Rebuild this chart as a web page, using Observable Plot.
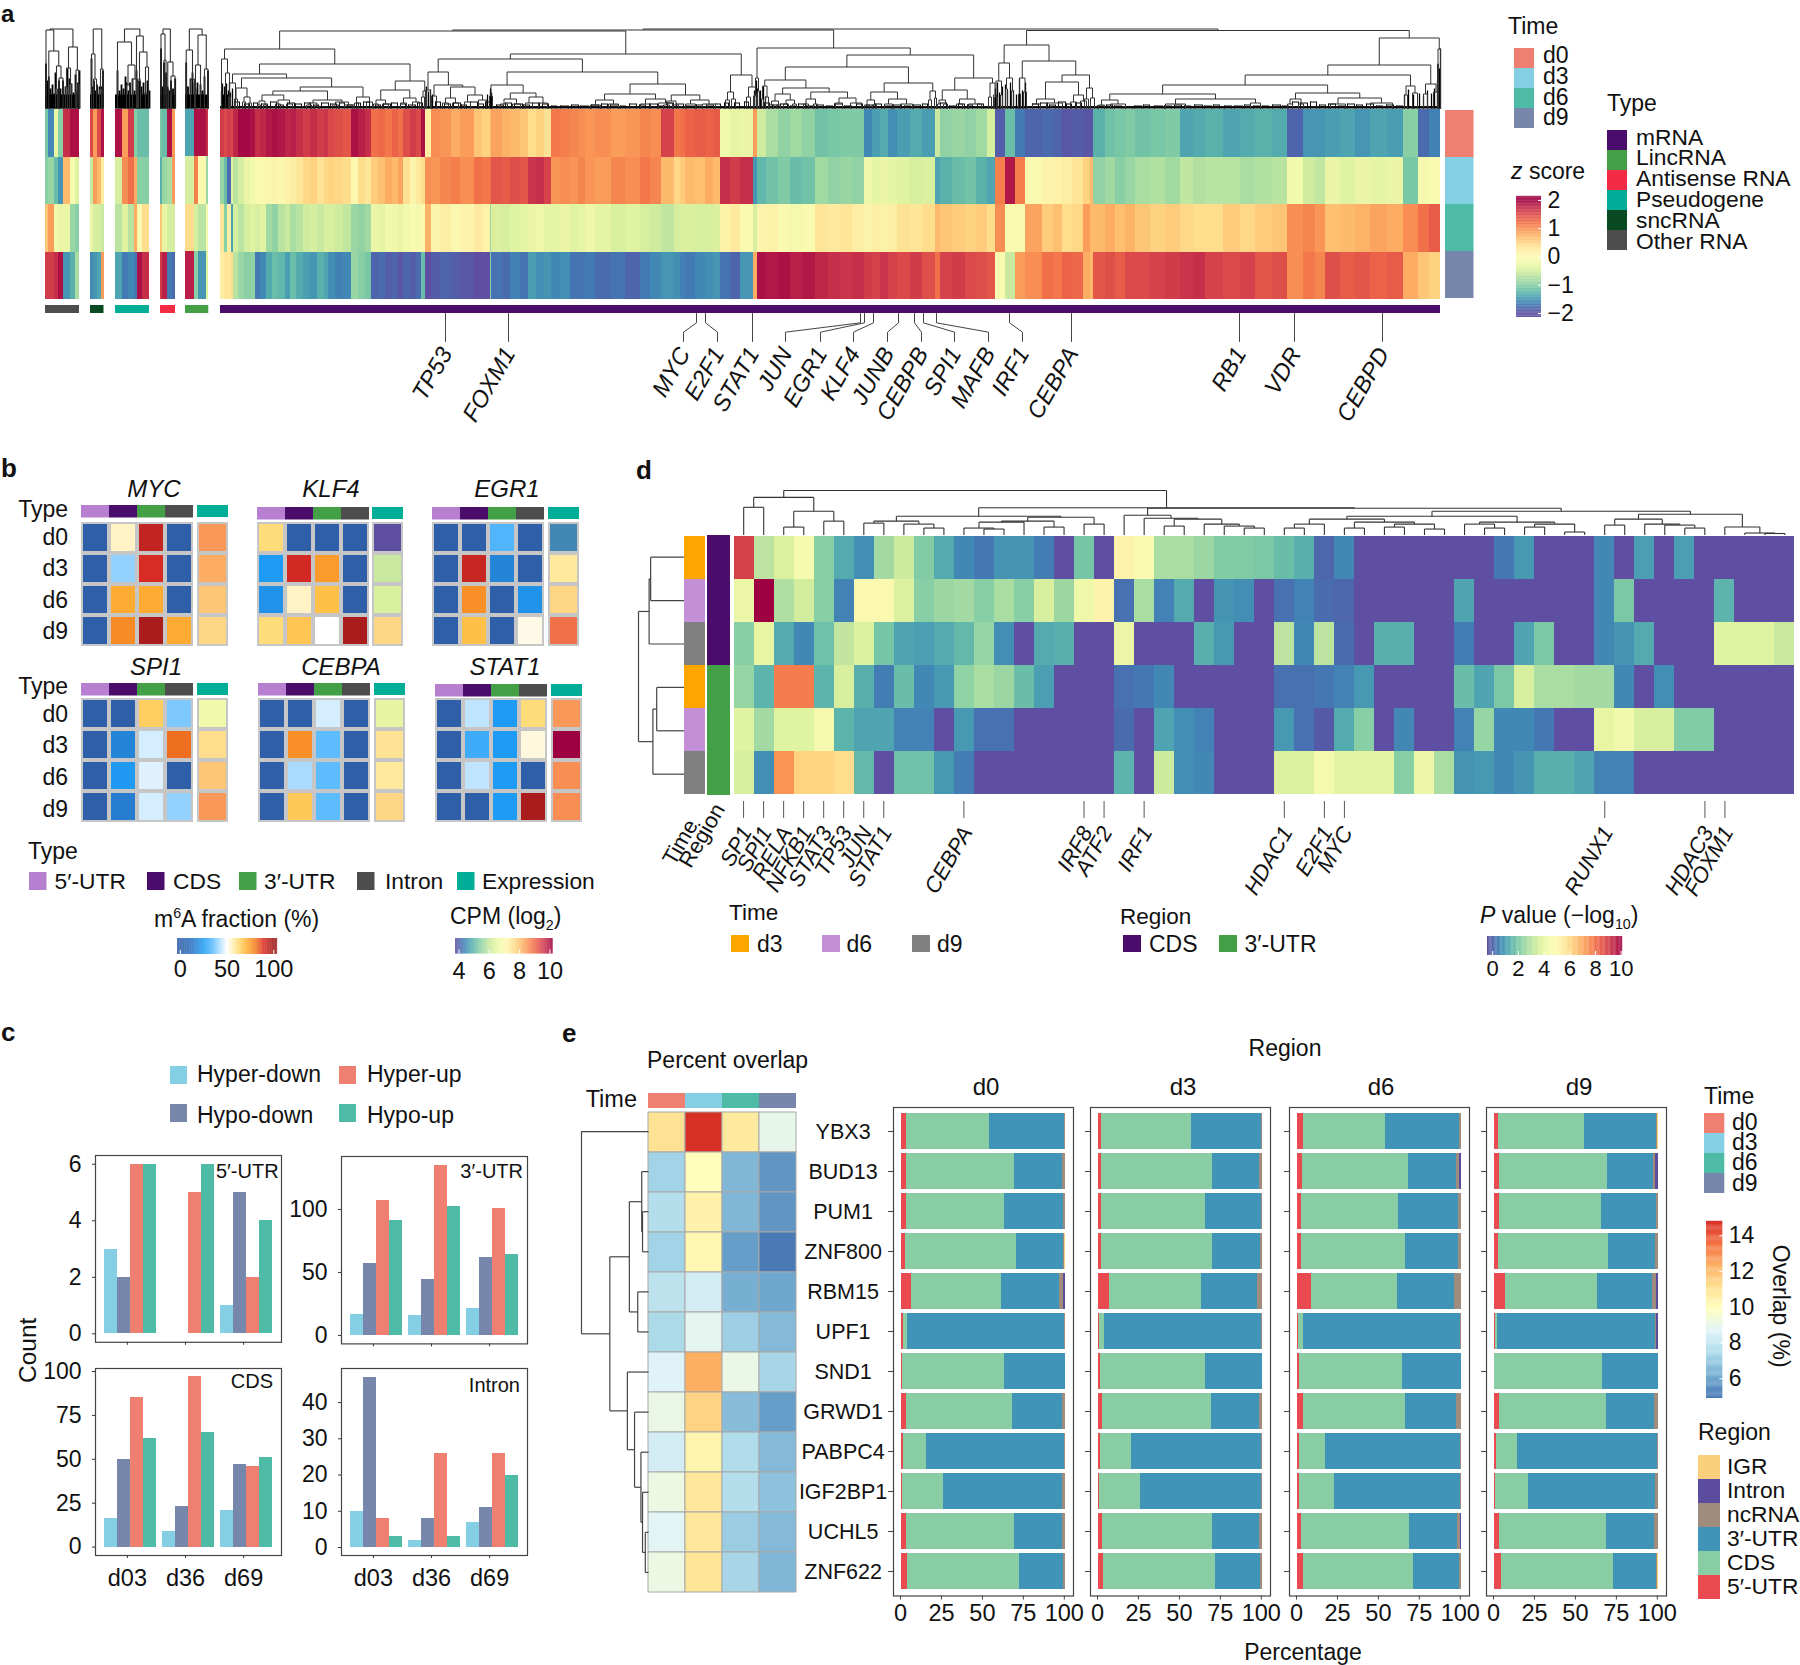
<!DOCTYPE html>
<html><head><meta charset="utf-8">
<script src="https://cdn.jsdelivr.net/npm/d3@7"></script>
<script src="https://cdn.jsdelivr.net/npm/@observablehq/plot@0.6"></script>
<style>
html,body{margin:0;background:#fff}
#root{position:relative;width:1800px;height:1665px;overflow:hidden;font-family:"Liberation Sans",Arial,sans-serif;color:#111}
#root svg{font-family:"Liberation Sans",Arial,sans-serif}
.t{position:absolute;white-space:nowrap;line-height:.88}
.t sub,.t sup{font-size:62%;line-height:0}
</style></head><body><div id="root"></div>
<script>
/* ---------- shared categories ---------- */
const times=["d0","d3","d6","d9"];
const timeColors=["#ef7f70","#85cfe4","#4dbba5","#7787ab"];
const rnaTypes=["mRNA","LincRNA","Antisense RNA","Pseudogene","sncRNA","Other RNA"];
const rnaColors=["#4b0d6b","#43a047","#f42b45","#00ad96","#0a4a22","#4d4d4d"];

/* ---------- panel a: [end rank, z d0, z d3, z d6, z d9] ---------- */
const aMain=[[4,1.6,-.9,.3,.2],[7,1.5,-1.2,-1,.3],[11,1.6,-1.8,.2,.3],[13,1.5,-.4,-1.4,.4],[18,1.75,-.7,-.5,-.7],[24,1.95,-.5,-.7,-.9],[30,1.95,-.3,-.5,-1.0],[35,1.9,-.2,-.4,-.95],[40,1.7,0,-.5,-1.7],[46,1.75,-.05,-.4,-1.6],[52,1.85,.05,-.85,-1.35],[58,1.9,.1,-.95,-1.2],[65,1.85,.05,-.7,-1.25],[70,1.75,.15,-.6,-1.45],[76,1.8,.2,-.8,-1.2],[83,1.7,.3,-.7,-1.35],[90,1.6,.45,-.55,-1.45],[97,1.7,.5,-.5,-1.5],[104,1.6,.35,-.6,-1.3],[108,1.65,.45,-.45,-1.4],[115,1.5,.5,-.5,-1.55],[123,1.45,.45,-.55,-1.65],[131,1.4,.4,-.65,-1.6],[138,1.9,.05,-.9,-.9],[145,1.8,.4,-.95,-1.0],[151,1.7,.3,-.85,-1.1],[158,1.2,.55,-.3,-1.85],[165,1.25,.65,-.35,-1.8],[172,1.15,.8,-.2,-1.9],[178,1.3,.7,-.25,-1.85],[183,1.2,.85,-.3,-1.95],[190,1.45,.35,-.2,-1.85],[196,1.6,.1,-.1,-1.9],[201,1.5,.25,-.15,-1.8],[205,1.9,.4,0,-1.2],[211,.2,1.0,.75,-2],[220,1.0,.95,.1,-1.9],[231,.95,1.05,.2,-1.85],[240,.8,1.1,.05,-1.9],[254,.9,1.0,.12,-1.95],[262,.6,1.2,.25,-2],[270,.5,1.15,.15,-2.05],[271,.7,1.2,-.9,-1.0],[282,.85,1.4,-.45,-1.75],[290,.75,1.35,-.5,-1.8],[300,.7,1.45,-.4,-1.65],[308,.6,1.4,-.35,-1.75],[316,.4,1.65,-.3,-1.45],[324,.5,1.7,-.25,-1.55],[331,.35,1.55,-.35,-1.5],[340,1.15,.95,-.35,-1.6],[350,1.1,1.0,-.3,-1.55],[358,1.05,.95,-.4,-1.75],[365,1.0,1.05,-.35,-1.75],[375,.95,.95,-.25,-1.7],[391,1.0,.9,-.35,-1.8],[405,.9,1.05,-.45,-1.75],[420,.95,1.0,-.4,-1.85],[430,1.05,1.15,-.5,-1.7],[441,1.0,1.05,-.55,-1.6],[454,1.55,.7,-.65,-1.5],[460,1.15,.45,-.5,-1.55],[465,1.2,.55,-.45,-1.65],[475,1.3,.7,-.45,-1.7],[485,1.35,.65,-.5,-1.6],[493,1.3,.8,-.5,-1.55],[500,1.35,.7,-.45,-1.5],[510,-.2,1.7,.15,-1.75],[520,-.35,1.6,.25,-1.85],[533,-.3,1.7,-.1,-1.5],[537,.9,-1.5,-.5,.8],[546,-.55,-1.25,.1,1.9],[558,-.8,-1.15,.15,1.85],[570,-.95,-1.05,-.05,1.9],[582,-.85,-1.2,-.15,1.8],[595,-.95,-1.15,-.1,1.85],[608,-1.15,-.85,.3,1.75],[620,-1.1,-.95,.25,1.7],[632,-1.05,-.9,.3,1.65],[644,-1.05,-.95,.2,1.7],[652,-1.6,-.25,.1,1.6],[660,-1.45,-.35,.2,1.55],[668,-1.35,-.3,.15,1.65],[677,-1.55,-.35,.2,1.55],[690,-1.45,-.4,.35,1.5],[702,-1.35,-.5,.3,1.6],[715,-1.45,-.45,.4,1.45],[720,-.6,-1.4,.7,1.2],[732,-.95,-1.3,.6,1.55],[745,-.9,-1.2,.55,1.6],[756,-.95,-1.15,.5,1.5],[767,-.85,-1.3,.55,1.45],[775,-.5,-1.4,.4,1.4],[785,-1.9,1.1,1.0,-.1],[795,-1.2,1.85,-.1,-.6],[805,-1.7,1.1,-.1,.9],[822,-1.85,-.05,.85,1.0],[833,-1.8,.1,.55,1.2],[842,-1.85,.15,.65,1.15],[852,-1.95,.2,.4,1.3],[863,-1.9,.3,.45,1.25],[870,-1.95,.5,.9,.8],[873,-1.95,.7,.7,.7],[885,-1.3,-.95,.7,1.4],[895,-1.15,-.85,.8,1.45],[905,-1.1,-1.0,.65,1.35],[915,-1.05,-.9,.75,1.5],[930,-1.15,-.8,.6,1.5],[945,-1.1,-.75,.5,1.55],[960,-1.05,-.85,.55,1.6],[973,-1.4,-.65,.45,1.65],[985,-1.35,-.75,.4,1.7],[1003,-1.3,-.7,.4,1.55],[1020,-1.4,-.7,.55,1.5],[1035,-1.35,-.8,.45,1.55],[1052,-1.3,-.75,.55,1.4],[1067,-1.35,-.7,.6,1.45],[1083,-1.85,-.2,1.0,1.0],[1095,-1.5,-.55,1.05,1.15],[1105,-1.5,-.65,.95,1.05],[1120,-1.45,-.3,.65,1.45],[1135,-1.4,-.4,.7,1.35],[1150,-1.5,-.3,.75,1.4],[1167,-1.4,-.35,.85,1.3],[1183,-1.45,-.3,.8,1.35],[1198,-1.0,-1.1,1.0,.8],[1209,-1.8,-.15,1.2,.6],[1220,-1.65,-.1,1.35,.5]];
const aOther=[[3.3,-1.1,-1,.6,1.6],[9,-1.6,-.9,.9,1.6],[13.3,-.3,-1.2,-.2,1.7],[18.3,-1,-1.5,-.3,1.9],[25,1.7,.7,-.3,-1.5],[30,1.9,-.1,-.9,-1.3],[34,1.9,-.4,-1,-.8]];
const aSnc=[[3,1.5,-.6,-.3,-1.6],[7,.9,.9,-.5,-1.5],[10.5,1.5,.7,-.5,-1.4],[13.3,1.9,.2,-.6,.9]];
const aPseudo=[[7,1.9,-.5,-.7,-1.4],[12.7,.9,1.0,-.4,-1.7],[19.3,1.6,1.2,-.7,-1.6],[22,-1,.8,.8,-1.7],[27,-1.2,-1,-.1,1.9],[34,-1.2,-1,.4,1.7]];
const aAnti=[[2.3,-1.1,-1.3,.6,1.6],[6.7,-1.2,-.9,-.3,1.8],[12.3,1.9,-.8,-.5,-1.7],[15,.9,.9,-.5,-1.8]];
const aLinc=[[9,-1.4,-.5,.4,1.8],[13.3,1.9,1.1,-.5,-1],[20.7,1.9,0,-.7,-1.5],[23.3,1.7,-.9,-.2,-.4]];

/* dendrograms: [height, left, right], numbers are leaf ranks */
const aMainTree=[80,[79,[78,
  [60,[50,1,[36,5,9]],[45,[35,[26,[12,8,10],15],[31,[21,[10,14,17],[12,[7,22,25],[6,28,31]]],[22,[18,[14,[8,[4,37,40],[4,43,46]],[9,[5,55,60],[5,66,72]]],[9,[6,[4,86,91],[3,94,99]],[7,[4,112,118],[4,124,132]]]],[12,[6,134,138],[7,146,152]]]]],[28,[19,[9,[5,153,158],[5,162,168]],[11,[6,180,186],[7,192,199]]],[18,[12,201,204],206]]]],
  [55,[50,[37,[19,205,210],[24,[13,211,216],[22,[11,[6,222,228],[6,232,238]],[14,[7,244,250],[9,258,266]]]]],[37,[24,[13,269,272],[16,[10,[5,280,287],[5,292,300]],[12,[6,305,312],[6,318,327]]]],[25,[15,[9,[4,370,380],[5,388,398]],[10,[5,420,430],[6,438,452]]],[14,[8,[4,443,449],[4,453,458]],[9,[5,465,475],[5,482,495]]]]]],
  [34,[17,[9,505,509],[10,511,515]],[22,[12,526,530],[13,533,537]]]]],
  [61,[31,[15,534,536],[18,537,539]],[54,[42,[29,[23,[10,541,543],[12,545,548]],[21,[15,[8,[4,549,553],[4,556,560]],[9,[5,563,568],[5,572,576]]],[17,[10,[5,583,588],[5,593,597]],[11,[6,615,622],[6,630,641]]]]],[26,[17,[9,[4,644,649],[4,652,656]],[10,[5,664,672],[5,680,692]]],[18,[9,708,711],[11,714,716]]]],[31,[19,[9,[5,717,720],[5,723,727]],[10,[5,736,742],[5,748,761]]],[26,[12,768,771],[14,773,776]]]]]],
  [78.5,[64,[46,[28,[12,774,777],[14,780,782]],[31,[20,785,787],[18,791,793]]],[48,[31,[15,798,800],[17,803,806]],[34,[27,[10,[5,812,820],[6,826,842]],[14,[7,850,856],[8,860,866]]],[21,[10,864,868],[11,870,874]]]]],
  [71,[44,[34,[24,[15,[9,[4,878,884],[5,890,905]],[10,[5,945,965],[6,1030,1040]]],[16,[10,[5,1067,1072],[5,1078,1083]],[11,[5,1110,1125],[6,1150,1172]]]],[23,[14,1184,1187],[16,1192,1197]]],[25,[15,1203,1207],[17,1213,1218]]],[60,[45,1217,1218],1220]]]];
const aOtherTree=[80,[79,.5,[58,3.3,[43,[20,10,12],[31,13.5,17.5]]]],[62,[41,[22,20,22],[25,24,26]],[39,[18,30,31],[24,32.5,34]]]];
const aSncTree=[80,[55,1,[30,3,6]],[40,[20,9,11],12.5]];
const aPseudoTree=[80,[67,2,[44,[24,11,14],[30,17,22]]],[73,21,[57,[28,23,25],[42,30,33]]]];
const aAntiTree=[80,[75,0.5,[49,3.5,5.5]],[47,[20,6.5,8],[33,[15,10,11],14.5]]];
const aLincTree=[80,[59,.7,[30,5,9]],[74,[44,10,15],[40,19,22.5]]];
/* tiny bottom branches of the main dendrogram: [rank, width, height] */
const aTwigs=[[14,5,7],[24,5,5],[33,4,6],[41,6,5],[50,6,7],[58,5,4],[67,7,6],[75,6,5],[84,6,6],[93,5,4],[101,7,6],[110,6,5],[119,5,6],[127,7,4],[136,4,6],[143,6,7],[155,5,4],[163,7,5],[171,6,6],[180,5,5],[188,7,4],[197,5,6],[215,5,7],[224,6,5],[233,7,6],[241,5,4],[250,7,7],[258,5,5],[265,4,7],[276,7,4],[285,6,6],[294,8,5],[303,6,4],[312,7,6],[322,6,5],[331,5,3],[340,8,3],[351,7,4],[360,8,3],[371,7,4],[381,6,5],[390,8,4],[400,5,3],[409,7,5],[419,6,4],[429,8,5],[438,5,3],[447,6,6],[456,7,5],[466,8,3],[476,6,4],[486,7,4],[495,5,5],[504,4,6],[514,5,6],[524,4,7],[544,5,6],[552,6,4],[560,7,5],[570,6,3],[578,7,5],[586,8,3],[596,7,4],[606,6,3],[614,8,5],[624,7,3],[636,6,5],[646,7,4],[655,6,5],[664,7,3],[673,8,4],[684,6,3],[693,7,4],[702,5,5],[720,6,6],[729,7,3],[738,6,5],[747,5,4],[757,6,5],[812,6,5],[820,7,6],[829,6,4],[838,7,7],[846,5,5],[855,6,6],[877,7,3],[886,6,4],[894,7,3],[904,8,2],[914,7,3],[923,6,4],[934,8,3],[944,7,3],[954,7,4],[964,6,3],[974,8,4],[984,7,3],[993,6,4],[1004,7,3],[1014,8,3],[1024,6,4],[1033,7,3],[1042,6,3],[1052,8,4],[1062,6,3],[1072,6,7],[1080,7,6],[1090,6,7],[1099,6,4],[1108,7,5],[1118,6,3],[1127,7,5],[1136,6,4],[1146,7,5],[1156,6,3],[1166,7,4],[1176,6,3]];
/* taller stems in the dense parts: [rank, height] */
const aStems=[[1,17],[2,25],[3,14],[4,22],[6,25],[7,14],[8,18],[9,26],[10,16],[12,20],[205,15],[206,22],[208,17],[210,19],[212,14],[267,14],[270,20],[271,16],[534,18],[536,28],[537,20],[540,18],[543,22],[545,12],[775,20],[777,26],[779,16],[782,22],[785,24],[787,18],[790,26],[793,18],[796,14],[799,30],[802,18],[805,26],[1184,14],[1188,19],[1193,14],[1199,15],[1203,12],[1207,18],[1211,15],[1214,20],[1217,28],[1219,40],[1220,60]];
const smallStems={
 other:[[.5,45],[2,28],[3.3,32],[5,20],[7,24],[9,15],[10,36],[12,18],[13.5,28],[15,20],[17.5,28],[20,22],[22,40],[24,30],[26,25],[28,16],[30,34],[32.5,26],[34,38]],
 snc:[[1,50],[2.5,22],[3.5,28],[5,18],[6.5,24],[8,14],[9,22],[11,22],[12.5,38]],
 pseudo:[[2,38],[4,18],[6,24],[8,20],[10,32],[11,26],[13,18],[14.5,26],[17,30],[19,18],[21,38],[22,26],[24,30],[26,22],[28,26],[30,16],[32,28],[34,18]],
 anti:[[.5,60],[2,22],[3.5,46],[5.5,36],[7,22],[9,18],[10.5,28],[12.5,20],[14.7,30]],
 linc:[[.7,46],[2.5,22],[5,30],[7,36],[9,26],[10,20],[12,26],[15,24],[17,18],[19,32],[22.5,38]]
};
const aGenes=["TP53","FOXM1","MYC","E2F1","STAT1","JUN","EGR1","KLF4","JUNB","CEBPB","SPI1","MAFB","IRF1","CEBPA","RB1","VDR","CEBPD"];
const aGeneRank=[225,288,476,485,532,640,644,653,678,694,703,716,789,851,1019,1074,1162];
const aLabelRank=[225,288,463,497,532,565,600,633,667,701,734,768,802,851,1019,1074,1162];

/* ---------- panel b ---------- */
const regionsB=["5′-UTR","CDS","3′-UTR","Intron"];
const regionBColors=["#b77fd0","#4b0d6b","#43a047","#4d4d4d"];
const bGenes=["MYC","KLF4","EGR1","SPI1","CEBPA","STAT1"];
const mycM6A=[[0,55,94,0],[0,40,90,0],[0,72,72,0],[0,78,98,72]];
const klf4M6A=[[62,0,0,0],[25,91,75,0],[22,55,68,0],[62,67,50,98]];
const egr1M6A=[[0,0,33,0],[0,93,18,0],[0,77,0,22],[0,68,0,52]];
const spi1M6A=[[0,0,65,38],[0,18,46,82],[0,24,47,0],[0,16,46,40]];
const cebpaM6A=[[0,0,46,0],[0,77,35,0],[0,42,35,0],[0,66,35,0]];
const stat1M6A=[[0,44,25,62],[0,30,25,53],[0,44,25,0],[0,0,25,98]];
const mycCPM=[8.4,8.2,7.9,7.7];
const klf4CPM=[4,6.1,6.3,7.7];
const egr1CPM=[4.6,7.4,7.7,8.8];
const spi1CPM=[6.7,7.6,7.9,8.4];
const cebpaCPM=[6.5,7.5,7.4,7.7];
const stat1CPM=[8.4,10,8.5,8.5];

/* ---------- panel c ---------- */
const changeTypes=["Hyper-down","Hypo-down","Hyper-up","Hypo-up"];
const changeColors=["#85cfe4","#7787ab","#ef7f70","#4dbba5"];
const intervals=["d03","d36","d69"];
const cUTR5=[[3,2,6,6],[0,0,5,6],[1,5,2,4]];
const cUTR3=[[17,57,107,91],[16,44,135,102],[21,62,101,64]];
const cCDS=[[16,50,85,62],[9,23,97,65],[21,47,46,51]];
const cIntron=[[10,47,8,3],[2,8,26,3],[7,11,26,20]];

/* ---------- panel d ---------- */
const dRows=[
[8.9,3.3,3.9,4.7,2.5,1.6,1.1,2.9,3.6,2.4,1.6,1,.7,1.2,1.2,.8,0,2.2,0,5.3,4.9,3,3,2.8,2.4,2.4,2.3,2,1.7,.4,1,0,0,0,0,0,0,0,.7,1.3,0,0,0,1,0,1.4,0,1.4,0,0,0,0,0],
[4.3,10,3.1,3.7,2.5,.9,5,5,3.9,2.5,2.8,2.9,2.5,3,2.5,3.8,2.8,4.4,5.3,.6,3,.9,1.6,0,1.2,1.1,0,.6,.9,.5,.4,0,0,0,0,0,1.5,0,0,0,0,0,0,1,2.3,0,0,0,0,1.8,0,0,0],
[2.5,4.2,1.6,1,2.1,3.4,3.9,2.2,1.5,1.4,1.6,1.9,2.7,1.1,0,1.6,1.7,0,0,4.3,0,0,0,1.7,1.3,0,0,3.3,1,3.3,.5,0,1.7,1.7,0,0,.8,0,0,1.5,2.3,0,0,1,1.2,1.6,0,0,0,4,4,4,3.5],
[2.7,1.8,7.8,7.8,1.8,3.8,1.7,.8,2,1,1.3,2.6,3,2.8,2,1.4,0,0,0,.6,.7,1,0,0,0,0,0,.6,.6,.7,.9,1.3,0,0,0,0,2,1.5,2.3,3.8,3,3,2.9,2.9,1,0,1.1,0,0,0,0,0,0],
[4,2.9,4,4,4.6,1.8,1.5,1.5,.9,.9,0,1.3,.6,.6,0,0,0,0,0,.5,0,1.5,1.1,.9,0,0,0,1.3,.6,.2,1.6,2.5,0,1,0,0,.9,2.7,1,1,.7,0,0,4.2,4.5,3.8,3.8,2.4,2.4,0,0,0,0],
[3.8,1.1,7.4,6.2,6.2,6,1.9,0,2.1,2.1,1.3,.8,0,0,0,0,0,0,0,1.8,0,3.6,1.1,1,0,0,0,3.9,3.9,4.6,4.1,4.1,4.1,2.5,4.3,3,1.2,1.3,1,1.2,1.7,1.7,1.5,.9,.9,0,0,0,0,0,0,0,0]];
const dTimes=["d3","d6","d9"];
const dTimeColors=["#ffa500","#c38fd6","#808080"];
const dRegions=["CDS","3′-UTR"];
const dRegionColors=["#4b0d6b","#43a047"];
const dGenes=["SP1","SPI1","RELA","NFKB1","STAT3","TP53","JUN","STAT1","CEBPA","IRF8","ATF2","IRF1","HDAC1","E2F1","MYC","RUNX1","HDAC3","FOXM1"];
const dGeneCols=[0,1,2,3,4,5,6,7,11,17,18,20,27,29,30,43,48,49];
const dTopTree=[45,[38,[28,0,1],[24,[8,2,3],[14,4,5]]],[27.5,[19,[14,[12,6,7],[11,8,[7,9,10]]],[18,[14,[13,[7,11,[6,12,13]],14],[8,15,16]],[11,17,18]]],[27,[20,19,[17,20,[16,[9,21,22],[11,23,[9,24,[7,25,26]]]]]],[24,[19,[16,[11,[7,27,28],29],[13,[7,30,31],[11,[8,32,33],[6,34,35]]]],[13,[11,36,[7,37,38]],[11,[8,39,40],[3,41,42]]]],[21,[16,[10,43,44],[11,45,[10,46,[7,47,48]]]],[8,49,[2,50,[1.5,51,52]]]]]]]];
const dLeftTree=[60,[46,[44,0,1],2],[41,[36,3,4],5]];

/* ---------- panel e ---------- */
const eGenes=["YBX3","BUD13","PUM1","ZNF800","RBM15","UPF1","SND1","GRWD1","PABPC4","IGF2BP1","UCHL5","ZNF622"];
const eOverlap=[[11,14.8,10.7,8.9],[7.2,9.9,6.4,5.6],[7.6,10.4,6.4,5.6],[7.2,10.2,5.8,5],[7.8,8.3,6.2,6],[7.4,8.8,7.1,6.5],[8.6,12.3,9,7.3],[9,11.4,6.6,5.8],[8.3,10.3,7.5,6.5],[9.1,10.8,7.6,6.7],[8.7,10.8,7,6.5],[9.1,10.9,7.3,6.4]];
const eTree=[168,0,[97,[48,[17,1,[15,2,3]],[27,4,5]],[53,6,[35,7,[19,8,[15,9,[8,10,11]]]]]]];
const eRegions=["5′-UTR","CDS","3′-UTR","ncRNA","Intron","IGR"];
const eRegionColors=["#e84a50","#88cda4","#3f94b8","#a08c7c","#5b4c9f","#fbd07c"];
const eD0=[[3,50.6,45.9,.5,0,0],[3.3,65.7,29,2,0,0],[2.8,60.2,36,1,0,0],[2.3,67.7,29,.7,0,.3],[6,55,35.4,2.6,1,0],[1,2.6,95.9,.5,0,0],[.5,62.5,37,0,0,0],[2.8,65.2,30.5,1.5,0,0],[1.3,14.2,84,.5,0,0],[.8,24.8,72.4,2,0,0],[3,66,29,2,0,0],[3.8,68.2,27,1,0,0]];
const eD3=[[2,54.5,43,.5,0,0],[2,67.6,28.4,2,0,0],[1.6,63.9,34,.5,0,0],[2,67.4,29.6,1,0,0],[6.6,56.4,34,3,0,0],[.5,3.4,95.6,.5,0,0],[1,64.5,34.5,0,0,0],[2.5,66.2,29.8,1.5,0,0],[1,19,79.7,.3,0,0],[.5,24.9,74.3,.3,0,0],[2.2,67.4,28.4,2,0,0],[3.2,68.2,27.6,1,0,0]];
const eD6=[[3.4,50.2,45.4,1,0,0],[2.9,65.1,29,1.7,1.3,0],[2.7,58.7,36.9,1.7,0,0],[2.7,63,32.6,1.7,0,0],[8.5,52.4,35.1,4,0,0],[.7,2.9,95.7,.7,0,0],[1.2,62.8,36,0,0,0],[3.4,62.8,30.8,3,0,0],[1.4,15.6,82.8,.2,0,0],[1.2,21.5,76.9,.4,0,0],[2.7,65.7,29.2,1.9,.5,0],[3.9,66.9,28,1.2,0,0]];
const eD9=[[2.4,52.6,43.7,.8,0,.5],[2.9,66.1,28,1.5,1.5,0],[2.9,62.7,33.2,1.2,0,0],[2.7,67,28.3,2,0,0],[6.8,56.2,33.6,2.2,1.2,0],[.3,1.7,96.5,.2,1.3,0],[.2,65.8,34,0,0,0],[3.2,65.3,29.3,2.2,0,0],[1.4,12.6,85.7,.3,0,0],[.3,20.3,77.4,2,0,0],[3.2,65.1,29.3,2.4,0,0],[4.4,68.5,26.1,.6,0,.4]];

/* ---------- helpers ---------- */
const root=document.getElementById("root");
function P(left,top,w,h,opts){
  const svg=Plot.plot({width:w,height:h,margin:0,style:{background:"transparent",overflow:"visible",maxWidth:"none",fontFamily:"Liberation Sans, Arial, sans-serif"},...opts});
  svg.style.position="absolute";svg.style.left=left+"px";svg.style.top=top+"px";root.append(svg);return svg;
}
function T(html,x,y,o={}){
  const s=o.size||22,e=document.createElement("div");e.className="t";e.innerHTML=html;
  e.style.left=x+"px";e.style.top=(y-.7865*s)+"px";e.style.fontSize=s+"px";
  if(o.weight)e.style.fontWeight=o.weight;if(o.italic)e.style.fontStyle="italic";
  const tx=o.anchor==="middle"?"translateX(-50%)":o.anchor==="end"?"translateX(-100%)":"";
  e.style.transform=tx+(o.rotate?` rotate(${o.rotate}deg)`:"");
  if(o.rotate)e.style.transformOrigin="50% 85%";
  root.append(e);return e;
}
function swatch(names,colors,left,top,w,h,dir="v"){
  return P(left,top,w,h,{x:{axis:null,padding:0,...(dir==="h"?{domain:names}:{})},y:{axis:null,padding:0,...(dir==="v"?{domain:names}:{})},color:{domain:names,range:colors},
    marks:[Plot.cell(names,dir==="v"?{y:d=>d,fill:d=>d}:{x:d=>d,fill:d=>d})]});
}
function segs(tree){
  const out=[];
  (function walk(n){
    if(typeof n==="number")return{p:n,h:0};
    const A=walk(n[1]),B=walk(n[2]),h=n[0];
    out.push({a1:A.p,b1:A.h,a2:A.p,b2:h},{a1:B.p,b1:B.h,a2:B.p,b2:h},{a1:A.p,b1:h,a2:B.p,b2:h});
    return{p:(A.p+B.p)/2,h};
  })(tree);
  return out;
}
function topDendro(tree,left,top,w,h,xd,maxH,extra=[],sw=1){
  return P(left,top,w,h,{x:{domain:xd,axis:null},y:{domain:[0,maxH],axis:null},
    marks:[...extra,Plot.link(segs(tree),{x1:"a1",y1:"b1",x2:"a2",y2:"b2",stroke:"#333",strokeWidth:sw})]});
}
function sideDendro(tree,left,top,w,h,yd,maxH,sw=1.2){
  return P(left,top,w,h,{x:{domain:[maxH,0],axis:null},y:{domain:yd,axis:null},
    marks:[Plot.link(segs(tree),{y1:"a1",x1:"b1",y2:"a2",x2:"b2",stroke:"#444",strokeWidth:sw})]});
}
const zColor={type:"linear",scheme:"Spectral",reverse:true,domain:[-2,2]};
function zHeat(seg,left,top,w,h){
  const data=seg.flatMap((s,i)=>[0,1,2,3].map(r=>({x1:i?seg[i-1][0]:0,x2:s[0],r,z:s[r+1]})));
  return P(left,top,w,h,{x:{domain:[0,seg[seg.length-1][0]],axis:null},y:{domain:[4,0],axis:null},color:zColor,
    marks:[Plot.rect(data,{x1:"x1",x2:"x2",y1:"r",y2:d=>d.r+1,fill:"z",shapeRendering:"crispEdges"})]});
}
function vBar(color,lo,hi,ticks,left,top,w,h,mr,fs=22,fmt=d=>String(d).replace("-","−")){
  const st=(hi-lo)/160,s=d3.range(lo,hi,st);
  return P(left,top,w+mr,h,{marginRight:mr,x:{domain:[0,1],axis:null},y:{domain:[lo,hi],axis:null},color,
    marks:[Plot.rect(s,{x1:()=>0,x2:()=>1,y1:d=>d,y2:d=>d+st*1.2,fill:d=>d}),
      Plot.axisY({anchor:"right",ticks,tickFormat:fmt,tickSize:-4,tickPadding:10,stroke:"#fff",fill:"#111",fontSize:fs,label:null})]});
}
function hBar(color,lo,hi,ticks,left,top,w,h,mb,fs=22,pad=mb-18){
  const st=(hi-lo)/160,s=d3.range(lo,hi,st);
  return P(left-14,top,w+28,h+mb,{marginLeft:14,marginRight:14,marginBottom:mb,x:{domain:[lo,hi],axis:null},y:{domain:[0,1],axis:null},color,
    marks:[Plot.rect(s,{y1:()=>0,y2:()=>1,x1:d=>d,x2:d=>d+st*1.2,fill:d=>d}),
      Plot.axisX({anchor:"bottom",ticks,tickFormat:d=>d,tickSize:-4,tickPadding:pad,stroke:"#fff",fill:"#111",fontSize:fs,label:null})]});
}

/* ---------- panel a ---------- */
T("a",1,22,{size:24,weight:"bold"});
const blocks=[
 [aOther,aOtherTree,45,34,"Other RNA",smallStems.other],
 [aSnc,aSncTree,90,13.5,"sncRNA",smallStems.snc],
 [aPseudo,aPseudoTree,115,34,"Pseudogene",smallStems.pseudo],
 [aAnti,aAntiTree,159.5,15,"Antisense RNA",smallStems.anti],
 [aLinc,aLincTree,185,23.3,"LincRNA",smallStems.linc]];
for(const [seg,tree,left,w,type,stems] of blocks){
  zHeat(seg,left,109,w,190);
  topDendro(tree,left,27.5,w,80.5,[0,w],80.5,[
    Plot.rect([0],{x1:()=>0,x2:()=>w,y1:()=>0,y2:()=>14,fill:"#000"}),
    Plot.ruleX(stems,{x:d=>d[0],y1:()=>0,y2:d=>d[1],stroke:"#000",strokeWidth:1.8})],1.1);
  swatch([type],[rnaColors[rnaTypes.indexOf(type)]],left,305,w,8.5);
}
zHeat(aMain,220,109,1220,190);
topDendro(aMainTree,220,27.5,1220,80.5,[0,1220],80.5,[
  Plot.rect([0],{x1:()=>0,x2:()=>1220,y1:()=>0,y2:()=>2.4,fill:"#000"}),
  Plot.ruleX(aStems,{x:d=>d[0],y1:()=>0,y2:d=>d[1],stroke:"#000",strokeWidth:1.3}),
  Plot.ruleY(aTwigs,{x1:d=>d[0],x2:d=>d[0]+d[1],y:d=>d[2],stroke:"#111",strokeWidth:1}),
  Plot.ruleX(aTwigs,{x:d=>d[0],y1:()=>0,y2:d=>d[2],stroke:"#111",strokeWidth:1}),
  Plot.ruleX(aTwigs,{x:d=>d[0]+d[1],y1:()=>0,y2:d=>d[2],stroke:"#111",strokeWidth:1})]);
swatch(["mRNA"],[rnaColors[0]],220,305,1220,8.5);
swatch(times,timeColors,1445,109,28.5,190);
const aLines=aGenes.flatMap((g,i)=>[[aGeneRank[i],0],[aGeneRank[i],1],[aLabelRank[i],2],[aLabelRank[i],3]].map(([x,y])=>({g,x,y})));
P(220,313,1220,125,{marginBottom:97,x:{domain:[0,1220],axis:null},y:{domain:[0,3],reverse:true,axis:null},
  marks:[Plot.line(aLines,{x:"x",y:"y",z:"g",stroke:"#444",strokeWidth:1}),
    Plot.text(aGenes,{x:(d,i)=>aLabelRank[i],y:()=>3,text:d=>d,rotate:-60,textAnchor:"end",dx:1,dy:8,fontStyle:"italic",fontSize:23.5,fill:"#111"})]});
T("Time",1508,34,{size:23});
swatch(times,timeColors,1514,46,20,83);
times.forEach((t,i)=>T(t,1543,63+i*20.8,{size:23}));
T("Type",1607,111.5,{size:23});
swatch(rnaTypes,rnaColors,1607,128,20,124.5);
rnaTypes.forEach((t,i)=>T(t,1636,144.5+i*20.8,{size:22.8}));
T("<i>z</i> score",1511,179,{size:23});
vBar(zColor,-2.14,2.14,[-2,-1,0,1,2],1516,196,25,121,34,23);

/* ---------- panel b ---------- */
T("b",1,477,{size:26,weight:"bold"});
const m6aColor={type:"linear",domain:[0,12,25,35,50,60,70,80,90,100],range:["#2e5fa8","#2a6fc0","#1e9cf5","#5dbbff","#ffffff","#ffe68a","#ffb638","#f58020","#d92b25","#9e1a1a"],clamp:true};
const cpmColor={type:"linear",scheme:"Spectral",reverse:true,domain:[4,10],clamp:true};
const bM6A=[mycM6A,klf4M6A,egr1M6A,spi1M6A,cebpaM6A,stat1M6A];
const bCPM=[mycCPM,klf4CPM,egr1CPM,spi1CPM,cebpaCPM,stat1CPM];
const bPos=[[80,197,522,505,154,497],[256,372,522,506.5,331,497],[431,548,522,506.5,507,497],[80,197,698,682.6,156,674.6],[257,374,698,683,341,674.6],[434,551,698,683.5,505,674.6]];
bGenes.forEach((g,k)=>{
  const [xm,xe,y,yb,xt,yt]=bPos[k];
  const cells=times.flatMap((t,i)=>regionsB.map((r,j)=>({t,r,v:bM6A[k][i][j]})));
  P(xm,y,113.5,124,{x:{domain:regionsB,axis:null,padding:0},y:{domain:times,axis:null,padding:0},color:m6aColor,
    marks:[Plot.cell(cells,{x:"r",y:"t",fill:"v",stroke:"#c6c6c6",strokeWidth:2,inset:1})]});
  P(xe,y,31,124,{x:{axis:null},y:{domain:times,axis:null,padding:0},color:cpmColor,
    marks:[Plot.cell(times,{y:d=>d,fill:(d,i)=>bCPM[k][i],stroke:"#c6c6c6",strokeWidth:2,inset:1})]});
  swatch(regionsB,regionBColors,xm,yb,113.5,12.5,"h");
  swatch(["Expression"],["#00ad96"],xe,yb,31,12.5);
  T(g,xt,yt,{size:24,italic:true,anchor:"middle"});
});
[[517,545,575.6,608,639.5],[694,722,753.5,785,816.7]].forEach(r=>{
  ["Type",...times].forEach((t,i)=>T(t,68,r[i],{size:23,anchor:"end"}));
});
T("Type",28,859,{size:23});
const bLegX=[28.5,147,239,357,456.5],bLegT=[54.5,173,264,385,482];
[...regionsB,"Expression"].forEach((r,i)=>{
  swatch([r],[[...regionBColors,"#00ad96"][i]],bLegX[i],872,17.5,18);
  T(r,bLegT[i],888.6,{size:22.8});
});
T("m<sup>6</sup>A fraction (%)",154,927,{size:23});
hBar(m6aColor,-3,104,[0,50,100],177,938,100,16,28,23.5);
T("CPM (log<sub>2</sub>)",450,924,{size:23});
hBar({...cpmColor,domain:[3.8,10.2]},3.77,10.2,[4,6,8,10],454.5,938,97.5,15.5,30,23.5);

/* ---------- panel c ---------- */
T("c",1,1041,{size:26,weight:"bold"});
[[170,1066,197,1082],[339,1066,367,1082],[170,1104,197,1123],[339,1104,367,1123]].forEach((p,i)=>{
  const idx=[0,2,1,3][i];
  swatch([changeTypes[idx]],[changeColors[idx]],p[0],p[1],17,18);
  T(changeTypes[idx],p[2],p[3],{size:23});
});
function bars(vals,left,top,ml,frameH,yd,yticks,labels,name,nx,ny){
  const mb=labels?45:8;
  const data=vals.flatMap((g,i)=>g.map((v,j)=>({x1:i-.45+j*.225,x2:i-.45+(j+1)*.225,v,k:changeTypes[j]})));
  P(left-ml,top,ml+186+3,frameH+mb,{marginLeft:ml,marginRight:3,marginBottom:mb,
    x:{domain:[-.6,2.6]},y:{domain:yd},color:{domain:changeTypes,range:changeColors},
    marks:[Plot.rect(data,{x1:"x1",x2:"x2",y1:()=>0,y2:"v",fill:"k",shapeRendering:"crispEdges"}),
      Plot.axisY({ticks:yticks,tickFormat:d=>d,tickSize:3,tickPadding:11,fontSize:23,label:null,stroke:"#333"}),
      Plot.axisX({ticks:[0,1,2],tickSize:3,tickPadding:11,fontSize:23.5,label:null,dx:-3,stroke:"#333",tickFormat:d=>labels?intervals[d]:""}),
      Plot.frame({stroke:"#444",strokeWidth:1.2})]});
  T(name,nx,ny,{size:20,anchor:"end"});
}
bars(cUTR5,95,1154.7,60,186.8,[-.3,6.31],[0,2,4,6],false,"5′-UTR",278.6,1179);
bars(cUTR3,341.4,1156,60,187.4,[-6.7,142],[0,50,100],false,"3′-UTR",523,1179);
bars(cCDS,95,1368,60,187,[-4.8,101.7],[0,25,50,75,100],true,"CDS",273,1389);
bars(cIntron,341.4,1368,60,187,[-2.2,49.4],[0,10,20,30,40],true,"Intron",520,1393);
T("Count",35,1351,{size:24.5,anchor:"middle",rotate:-90});

/* ---------- panel d ---------- */
T("d",636,479,{size:26,weight:"bold"});
const dNames=d3.range(53);
const dLabels=["d3 CDS","d6 CDS","d9 CDS","d3 3′-UTR","d6 3′-UTR","d9 3′-UTR"];
const dCells=dRows.flatMap((r,i)=>r.map((v,j)=>({r:dLabels[i],c:j,v})));
P(733,535.4,1061.6,260.4,{x:{domain:dNames,axis:null,padding:0},y:{domain:dLabels,axis:null,padding:0},
  color:{type:"linear",scheme:"Spectral",reverse:true,domain:[0,10]},
  marks:[Plot.cell(dCells,{x:"c",y:"r",fill:"v",shapeRendering:"crispEdges"})]});
topDendro(dTopTree,733,489,1061.6,45.5,[-.5,52.5],46,[],1.1);
sideDendro(dLeftTree,638,535.4,45.5,260.4,[5.5,-.5],60);
swatch(["a","b","c","d","e","f"],[...dTimeColors,...dTimeColors],684,535.4,21,260.4);
swatch(["x","y"],dRegionColors,707,535.4,23,260.4);
P(733,801,1061.6,130,{marginBottom:113,marginLeft:0,x:{domain:[-.5,52.5],axis:null},y:{domain:[0,1],reverse:true,axis:null},
  marks:[Plot.ruleX(dGeneCols,{x:d=>d,y1:()=>0,y2:()=>1,stroke:"#555",strokeWidth:1}),
    Plot.text(dGenes,{x:(d,i)=>dGeneCols[i],y:()=>1,text:d=>d,rotate:-60,textAnchor:"end",dx:3,dy:10,fontStyle:"italic",fontSize:22,fill:"#111"}),
    Plot.text(["Time"],{x:()=>-2.55,y:()=>0,text:d=>d,rotate:-60,textAnchor:"end",dy:20,fontSize:22,fill:"#111"}),
    Plot.text(["Region"],{x:()=>-1.2,y:()=>0,text:d=>d,rotate:-60,textAnchor:"end",dy:4,fontSize:22,fill:"#111"})]});
T("Time",729,921,{size:22.5});
dTimes.forEach((t,i)=>{swatch([t],[dTimeColors[i]],[731,822,912][i],935,18,17.5);T(t,[757,846.5,937][i],951.7,{size:23});});
T("Region",1120,925,{size:22.5});
dRegions.forEach((t,i)=>{swatch([t],[dRegionColors[i]],[1122.6,1219][i],935,18,17.5);T(t,[1149,1244.5][i],951.7,{size:23});});
T("<i>P</i> value (−log<sub>10</sub>)",1480,923,{size:23});
hBar({type:"linear",scheme:"Spectral",reverse:true,domain:[-.4,10.1]},-.4,10.1,[0,2,4,6,8,10],1487,936,135,19,30,22,9);

/* ---------- panel e ---------- */
T("e",562,1042,{size:26,weight:"bold"});
T("Percent overlap",647,1068,{size:23});
T("Time",637,1107,{size:23.5,anchor:"end"});
T("Region",1285,1056,{size:23,anchor:"middle"});
T("Percentage",1303,1660,{size:23,anchor:"middle"});
swatch(times,timeColors,648,1093,148,15,"h");
const overlapColor={type:"linear",domain:[4.9,6.14,7.375,8.61,9.85,11.09,12.33,13.56,14.8],range:["#4575b4","#74add1","#abd9e9","#e0f3f8","#ffffbf","#fee090","#fdae61","#f46d43","#d73027"]};
const eCells=eGenes.flatMap((g,i)=>times.map((t,j)=>({g,t,v:eOverlap[i][j]})));
P(648,1111,240,481,{marginRight:92,x:{domain:times,axis:null,padding:0},y:{domain:eGenes,axis:null,padding:0},color:overlapColor,
  marks:[Plot.cell(eCells,{x:"t",y:"g",fill:"v",stroke:"#a8a8a8",strokeWidth:1}),
    Plot.text(eGenes,{y:d=>d,text:d=>d,frameAnchor:"right",dx:46.6,textAnchor:"middle",fontSize:21.5,fill:"#111"})]});
sideDendro(eTree,580.5,1111,67,481,[11.5,-.5],168,1.2);
const eSets=[eD0,eD3,eD6,eD9],eLeft=[893,1090.4,1288.7,1486];
eSets.forEach((set,k)=>{
  const data=set.flatMap((row,i)=>row.map((v,j)=>({g:eGenes[i],r:eRegions[j],v})));
  P(eLeft[k]-7,1106.5,7+180+14,488.5+40,{marginLeft:7,marginRight:14,marginBottom:40,
    x:{domain:[-4.9,105]},y:{domain:eGenes,paddingInner:.1,paddingOuter:.15},color:{domain:eRegions,range:eRegionColors},
    marks:[Plot.barX(data,{x:"v",y:"g",fill:"r",order:null,shapeRendering:"crispEdges"}),
      Plot.axisY({tickSize:5,tickFormat:()=>"",label:null,stroke:"#444"}),
      Plot.axisX({ticks:[0,25,50,75,100],tickSize:4,tickPadding:4,fontSize:23.5,dx:-1,label:null,stroke:"#444"}),
      Plot.frame({stroke:"#444",strokeWidth:1.2})]});
  T(times[k],[986,1183,1381,1579][k],1095,{size:24,anchor:"middle"});
});
T("Time",1704,1104,{size:23});
swatch(times,timeColors,1703.7,1112,20.3,81);
times.forEach((t,i)=>T(t,1732,1130+i*20.2,{size:23}));
vBar(overlapColor,4.9,14.8,[6,8,10,12,14],1705.7,1221,16.3,177,32,23);
T("Overlap (%)",1774,1307,{size:23,anchor:"middle",rotate:90});
T("Region",1698,1440,{size:23});
const regionOrder=["IGR","Intron","ncRNA","3′-UTR","CDS","5′-UTR"];
swatch(regionOrder,regionOrder.map(r=>eRegionColors[eRegions.indexOf(r)]),1698,1454.5,22,144);
regionOrder.forEach((r,i)=>T(r,1727,1474+i*24,{size:22.8}));
</script></body></html>
